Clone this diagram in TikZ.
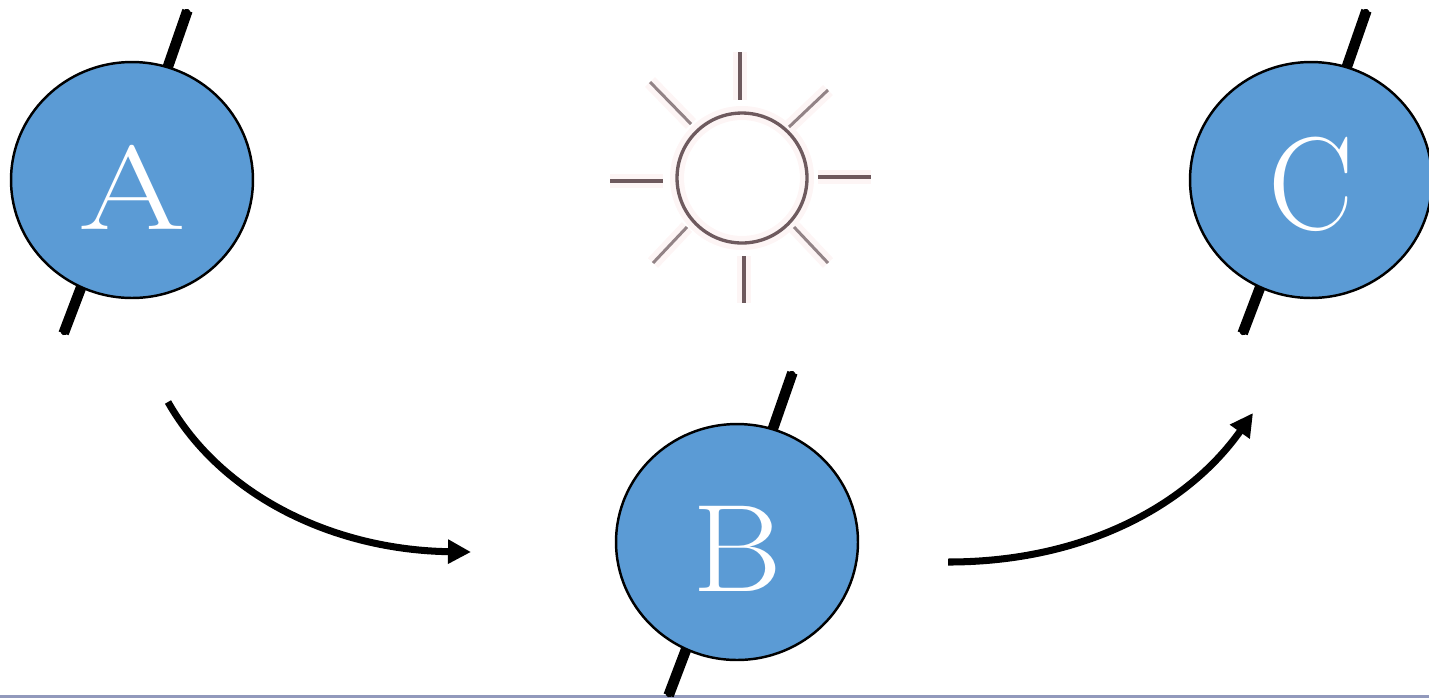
\documentclass[tikz,border=0pt]{standalone}
\usepackage{fontspec}
\newfontfamily\ballfont[FakeStretch=1.1]{Latin Modern Roman}
\usepackage{xcolor}
\definecolor{BallBlue}{HTML}{5B9BD5}
\definecolor{BaseLine}{HTML}{9299BC}
\definecolor{SunGrey}{HTML}{6E5A5E}
\definecolor{SunGlow}{HTML}{FDF5F5}
\usepackage{tikz}
\usetikzlibrary{
  calc,
  arrows.meta,
  shapes.geometric,
  backgrounds
}
\newcommand{\balltext}[3]{\raisebox{-28.3pt}[0pt][0pt]{\scalebox{#1}[#2]{#3}}}

\begin{document}
\begin{tikzpicture}[
      x=0.02cm, y=-0.02cm,
      ball/.style={ellipse, draw=black, line width=1.4pt, fill=BallBlue, text=white, inner sep=0pt, minimum width=4.84cm, minimum height=4.72cm, font=\ballfont\fontsize{71}{80}\selectfont},
      stick/.style={black, line width=6pt, shorten <=1pt, shorten >=1pt, preaction={draw, line width=4pt, line cap=round, shorten <=2pt, shorten >=2pt}},
      arr/.style={-{Triangle[length=4.6mm, width=4.6mm]}, black, line width=4pt},
      ray/.style={SunGrey, line width=1.9pt, preaction={draw=SunGlow, line width=8pt}},
      dray/.style={SunGrey!75, line width=1.7pt, preaction={draw=SunGlow, line width=8pt}}
    ]
    \useasboundingbox (0,0) rectangle (1429,698);
    \node[ball] (a) at (132,180) {\balltext{1.13}{0.955}{A}};
    \node[ball] (b) at (737,542) {\balltext{1}{1}{B}};
    \node[ball] (c) at (1311,180) {\balltext{0.93}{1.06}{C}};
    % axes stick out behind the balls
    \begin{scope}[on background layer]
      \fill[BaseLine] (0,695) rectangle (1429,698);
      \foreach \n in {a,b,c} {
        \coordinate (\n top) at ($(\n)+(56,-171)$);
        \coordinate (\n bottom) at ($(\n)+(-69,155)$);
        \draw[stick] ($(\n)+(33,-105)$) -- (\n top);
        \draw[stick] ($(\n)+(-50,105)$) -- (\n bottom);
      }
    \end{scope}
    % sun
    \node[circle, draw=SunGrey, line width=1.9pt, minimum size=2.6cm, inner sep=0pt, preaction={draw=SunGlow, line width=8pt}] (sun) at (742,178) {};
    \foreach \xa/\ya/\xb/\yb in {740/52/740/100, 744/256/744/303, 610/181/663/181, 818/177/871/177} {
      \draw[ray] (\xa,\ya) -- (\xb,\yb);
    }
    \foreach \xa/\ya/\xb/\yb in {650/82/691/124, 828/90/789/127, 653/263/687/227, 828/263/794/227} {
      \draw[dray] (\xa,\ya) -- (\xb,\yb);
    }
    % motion
    \coordinate (p1) at (168,402);
    \coordinate (p2) at (471,552);
    \coordinate (q1) at (948,562);
    \coordinate (q2) at (1253,413);
    \draw[arr] (p1) .. controls (222,497) and (335,550) .. (p2);
    \draw[arr] (q1) .. controls (1085,562) and (1188,505) .. (q2);
  \end{tikzpicture}
\end{document}
